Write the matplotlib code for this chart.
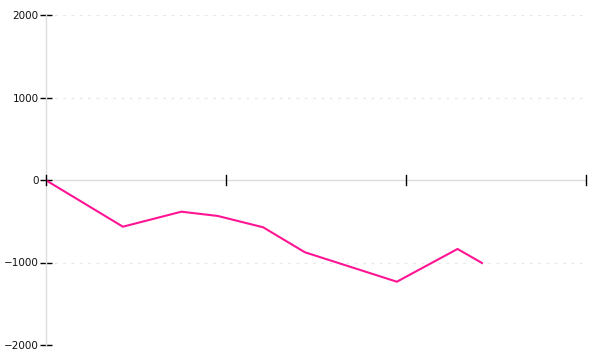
#!/usr/bin/env python3
"""Line chart: single magenta series dipping below zero, unlabeled x ticks."""
import matplotlib

matplotlib.use("Agg")
import matplotlib.pyplot as plt

# data
x_vals = [0.0, 4.30, 7.55, 9.57, 12.09, 14.41, 19.52, 22.89, 24.25]
y_vals = [0, -566, -384, -436, -573, -876, -1233, -836, -1006]
x_ticks = [0, 10, 20, 30]
y_ticks = [-2000, -1000, 0, 1000, 2000]

W, H = 600, 360
fig = plt.figure(figsize=(W / 100, H / 100), dpi=100)
left, right, top, bottom = 45.5, 585.5, 15, 345
ax = fig.add_axes([left / W, 1 - bottom / H, (right - left) / W, (bottom - top) / H])

ax.plot(x_vals, y_vals, color="#ff1493", lw=1.5, solid_joinstyle="miter", zorder=3)

ax.set_xlim(0, 30)
ax.set_ylim(-2000, 2000)

# spines: y axis on the left, x axis through zero
for s in ("top", "right", "bottom"):
    ax.spines[s].set_visible(False)
ax.spines["left"].set_color("#dddddd")
ax.spines["left"].set_linewidth(1)
ax.axhline(0, color="#dddddd", lw=1, zorder=1)

# dotted grid
for yv in y_ticks:
    if yv != 0:
        ax.axhline(yv, color="#e8e8e8", lw=1, ls=(0, (2, 4)), zorder=0)

ax.set_yticks(y_ticks)
ax.set_yticklabels([str(v).replace("-", "\u2212") for v in y_ticks])
ax.tick_params(axis="y", direction="inout", length=8, width=1, color="black",
               labelsize=7.5, pad=1, labelcolor="#111111")
ax.set_xticks([])

# x ticks drawn across the zero line
for xv in x_ticks:
    ax.plot([xv, xv], [-55, 55], color="black", lw=1, clip_on=False, zorder=4)

plt.savefig("out.png", dpi=100)
plt.close(fig)
